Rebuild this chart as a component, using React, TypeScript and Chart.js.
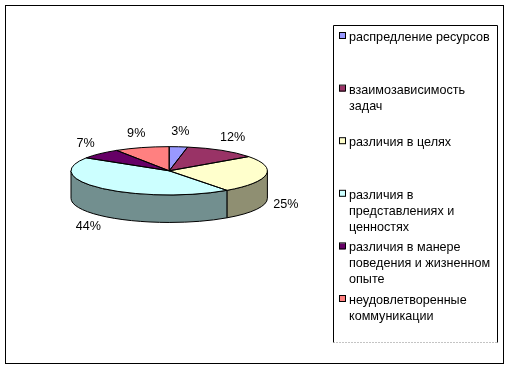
import React, { useEffect, useRef } from "react";
import { Chart, registerables } from "chart.js";

Chart.register(...registerables);

// ---- data ----
const categories: string[][] = [
  ["распредление ресурсов"],
  ["взаимозависимость", "задач"],
  ["различия в целях"],
  ["различия в", "представлениях и", "ценностях"],
  ["различия в манере", "поведения и жизненном", "опыте"],
  ["неудовлетворенные", "коммуникации"],
];
const shares: number[] = [3, 12, 25, 44, 7, 9];
const sliceColors: string[] = ["#9999FF", "#993366", "#FFFFCC", "#CCFFFF", "#660066", "#FF8080"];

// ---- look ----
const SQUASH = 0.246;
const DEPTH = 27.5;
const FONT = '12.6px "Liberation Sans", Arial, sans-serif';

function darken(hex: string, f: number): string {
  const n = parseInt(hex.slice(1), 16);
  const r = Math.round(((n >> 16) & 255) * f);
  const g = Math.round(((n >> 8) & 255) * f);
  const b = Math.round((n & 255) * f);
  return `rgb(${r},${g},${b})`;
}

function geom(chart: any) {
  const arcs = chart.getDatasetMeta(0).data;
  const p = arcs[0].getProps(["x", "y", "outerRadius"], true);
  return { arcs, cx: p.x, cy: p.y, rx: p.outerRadius, ry: p.outerRadius * SQUASH };
}

const pie3d = {
  id: "pie3d",
  beforeDatasetsDraw(chart: any) {
    const ctx = chart.ctx as CanvasRenderingContext2D;
    const { arcs, cx, cy, rx, ry } = geom(chart);
    const colors = chart.data.datasets[0].backgroundColor as string[];
    ctx.save();
    ctx.lineWidth = 1;
    ctx.strokeStyle = "#000";
    arcs.forEach((arc: any, i: number) => {
      const { startAngle, endAngle } = arc.getProps(["startAngle", "endAngle"], true);
      for (const shift of [-2 * Math.PI, 0, 2 * Math.PI]) {
        const s = Math.max(startAngle + shift, 0);
        const e = Math.min(endAngle + shift, Math.PI);
        if (e <= s) continue;
        ctx.beginPath();
        ctx.ellipse(cx, cy, rx, ry, 0, s, e, false);
        ctx.lineTo(cx + rx * Math.cos(e), cy + DEPTH + ry * Math.sin(e));
        ctx.ellipse(cx, cy + DEPTH, rx, ry, 0, e, s, true);
        ctx.closePath();
        ctx.fillStyle = darken(colors[i], 0.56);
        ctx.fill();
        ctx.stroke();
      }
    });
    ctx.restore();
    ctx.save();
    ctx.translate(cx, cy);
    ctx.scale(1, SQUASH);
    ctx.translate(-cx, -cy);
  },
  afterDatasetsDraw(chart: any) {
    const ctx = chart.ctx as CanvasRenderingContext2D;
    ctx.restore();
    const { arcs, cx, cy, rx, ry } = geom(chart);
    const values = chart.data.datasets[0].data as number[];
    const total = values.reduce((a, b) => a + b, 0);
    ctx.save();
    ctx.lineWidth = 1;
    ctx.strokeStyle = "#000";
    arcs.forEach((arc: any) => {
      const { startAngle, endAngle } = arc.getProps(["startAngle", "endAngle"], true);
      ctx.beginPath();
      ctx.moveTo(cx, cy);
      ctx.ellipse(cx, cy, rx, ry, 0, startAngle, endAngle, false);
      ctx.closePath();
      ctx.stroke();
    });
    ctx.font = FONT;
    ctx.fillStyle = "#000";
    ctx.textAlign = "center";
    ctx.textBaseline = "middle";
    arcs.forEach((arc: any, i: number) => {
      const { startAngle, endAngle } = arc.getProps(["startAngle", "endAngle"], true);
      const m = (startAngle + endAngle) / 2;
      const x = cx + (rx + 20) * Math.cos(m);
      const y = cy + (ry + 15) * Math.sin(m) + (Math.sin(m) > 0 ? DEPTH : 0);
      ctx.fillText(Math.round((values[i] / total) * 100) + "%", x, y);
    });
    ctx.restore();
  },
  afterDraw(chart: any) {
    const ctx = chart.ctx as CanvasRenderingContext2D;
    const labels = chart.data.labels as string[][];
    const colors = chart.data.datasets[0].backgroundColor as string[];
    ctx.save();
    ctx.lineWidth = 1;
    ctx.strokeStyle = "#000";
    // outer frame
    ctx.strokeRect(5.5, 5.5, 498, 358);
    // legend box
    ctx.beginPath();
    ctx.moveTo(333.5, 342.5);
    ctx.lineTo(333.5, 25.5);
    ctx.lineTo(497.5, 25.5);
    ctx.lineTo(497.5, 342.5);
    ctx.stroke();
    ctx.beginPath();
    ctx.setLineDash([1, 2]);
    ctx.strokeStyle = "#888";
    ctx.moveTo(333.5, 342.5);
    ctx.lineTo(497.5, 342.5);
    ctx.stroke();
    ctx.setLineDash([]);
    ctx.strokeStyle = "#000";
    ctx.font = FONT;
    ctx.textAlign = "left";
    ctx.textBaseline = "alphabetic";
    labels.forEach((lines, i) => {
      const base = 41 + i * 52.6;
      ctx.fillStyle = colors[i];
      ctx.fillRect(339, base - 8, 6, 6);
      ctx.strokeRect(339.5, base - 8.5, 6, 6);
      ctx.fillStyle = "#000";
      lines.forEach((ln, j) => ctx.fillText(ln, 349, base + j * 16));
    });
    ctx.restore();
  },
};

export default function App() {
  const ref = useRef<HTMLCanvasElement>(null);
  useEffect(() => {
    if (!ref.current) return;
    const chart = new Chart(ref.current, {
      type: "pie",
      data: {
        labels: categories as any,
        datasets: [
          {
            data: shares,
            backgroundColor: sliceColors,
            borderWidth: 0,
          },
        ],
      },
      options: {
        responsive: false,
        animation: false,
        events: [],
        layout: { padding: { left: 71, right: 242.6, top: 72.6, bottom: 102 } },
        plugins: { legend: { display: false }, tooltip: { enabled: false } },
      },
      plugins: [pie3d],
    });
    return () => chart.destroy();
  }, []);
  return (
    <div style={{ position: "absolute", left: 0, top: 0, width: 510, height: 371, background: "#fff" }}>
      <canvas ref={ref} width={510} height={371} style={{ display: "block" }} />
    </div>
  );
}
